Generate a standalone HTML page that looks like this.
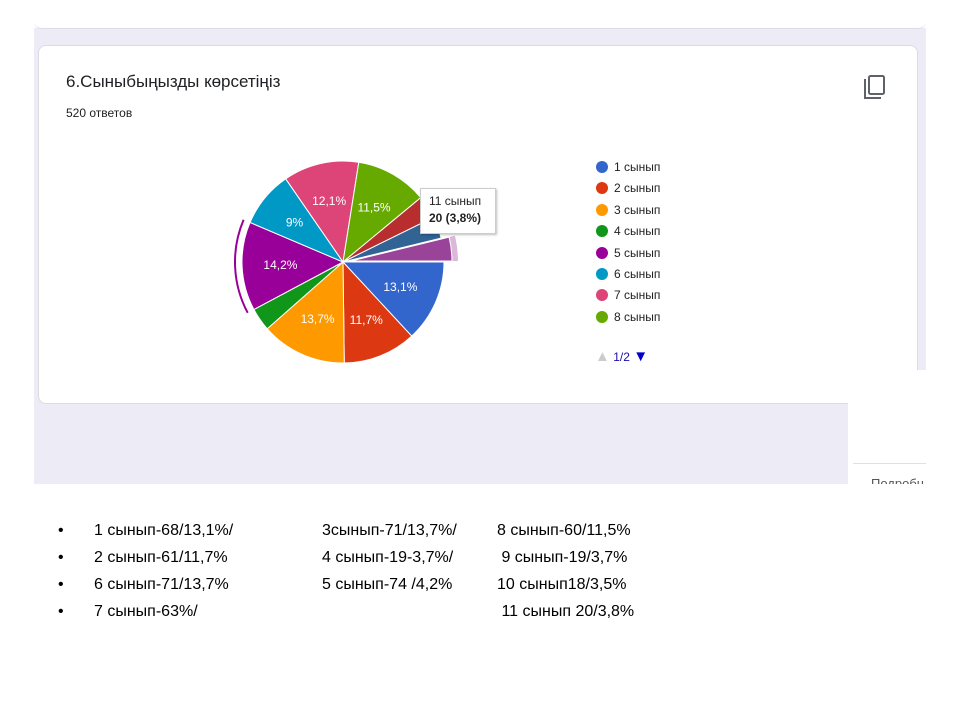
<!DOCTYPE html>
<html><head><meta charset="utf-8"><style>
body{margin:0;width:960px;height:720px;background:#fff;position:relative;overflow:hidden;font-family:"Liberation Sans",sans-serif}
.abs{position:absolute}
.bul{position:absolute;font-size:16px;color:#000;white-space:pre}
</style></head><body>
<div class="abs" style="left:34px;top:28px;width:892px;height:456px;background:#ecebf6"></div>
<div class="abs" style="left:34px;top:0;width:892px;height:28px;background:#fff;border-bottom:1px solid #dcdbe6;border-radius:0 0 8px 8px"></div>
<div class="abs" style="left:38px;top:45px;width:878px;height:357px;background:#fff;border:1px solid #dadce0;border-radius:8px"></div>
<div class="abs" style="left:66px;top:72px;font-size:17px;color:#202124">6.Сыныбыңызды көрсетіңіз</div>
<div class="abs" style="left:66px;top:106px;font-size:12px;color:#202124">520 ответов</div>
<svg class="abs" style="left:862px;top:74px" width="26" height="26" viewBox="0 0 26 26"><path d="M3 5v19h16" fill="none" stroke="#5f6368" stroke-width="2"/><rect x="7" y="2" width="15" height="18" rx="1.5" fill="none" stroke="#5f6368" stroke-width="2"/></svg>
<svg class="abs" id="pie" style="left:0;top:0" width="960" height="720"></svg>
<div class="abs" style="left:420px;top:188px;width:76px;height:46px;background:#fff;border:1px solid #ccc;box-shadow:1px 1px 2px rgba(0,0,0,.25);font-size:12px;color:#222;line-height:17px;padding:4px 0 0 8px;box-sizing:border-box">11 сынып<br><b>20 (3,8%)</b></div>
<div id="legend"></div>
<div class="abs" style="left:595px;top:348px;font-size:12px;color:#1a0dab"><span style="color:#ccc;font-size:15px">▲</span> 1/2 <span style="color:#0000cc;font-size:15px">▼</span></div>
<div class="abs" style="left:848px;top:370px;width:78px;height:114px;background:#fff"></div>
<div class="abs" style="left:853px;top:463px;width:73px;height:1px;background:#e0e0e0"></div>
<div class="abs" style="left:871px;top:476px;height:8px;overflow:hidden;font-size:13px;color:#555">Подробн</div>
<div class="bul" style="left:58px;top:517px;line-height:27px">•
•
•
•</div>
<div class="bul" style="left:94px;top:517px;line-height:27px">1 сынып-68/13,1%/
2 сынып-61/11,7%
6 сынып-71/13,7%
7 сынып-63%/</div>
<div class="bul" style="left:322px;top:517px;line-height:27px">3сынып-71/13,7%/
4 сынып-19-3,7%/
5 сынып-74 /4,2%</div>
<div class="bul" style="left:497px;top:517px;line-height:27px">8 сынып-60/11,5%
 9 сынып-19/3,7%
10 сынып18/3,5%
 11 сынып 20/3,8%</div>
<script>
const categories=["1 сынып","2 сынып","3 сынып","4 сынып","5 сынып","6 сынып","7 сынып","8 сынып","9 сынып","10 сынып","11 сынып"];
const values=[13.1,11.7,13.7,3.7,14.2,9,12.1,11.5,3.7,3.5,3.8];
const labels=["13,1%","11,7%","13,7%","","14,2%","9%","12,1%","11,5%","","",""];
const colors=["#3366cc","#dc3912","#ff9900","#109618","#990099","#0099c6","#dd4477","#66aa00","#b82e2e","#316395","#994499"];
const svg=document.getElementById('pie');const NS="http://www.w3.org/2000/svg";
const cx=343,cy=262,r=101,total=values.reduce((a,b)=>a+b,0);
function pt(a,rr,ox,oy){return [cx+ox+rr*Math.sin(a),cy+oy-rr*Math.cos(a)];}
let a=Math.PI/2;
values.forEach((v,i)=>{
 const s=a,e=a+v/total*2*Math.PI;a=e;
 const mid=(s+e)/2;let ox=0,oy=0;
 if(i===values.length-1){ox=8*Math.sin(mid);oy=-8*Math.cos(mid);
  const [hx1,hy1]=pt(s,r+6,ox,oy),[hx2,hy2]=pt(e,r+6,ox,oy);
  const h=document.createElementNS(NS,'path');
  h.setAttribute('d',`M${cx+ox},${cy+oy}L${hx1},${hy1}A${r+6},${r+6} 0 0 1 ${hx2},${hy2}Z`);
  h.setAttribute('fill','#d9b8d9');
  
  
  svg.appendChild(h);}
 const [x1,y1]=pt(s,r,ox,oy),[x2,y2]=pt(e,r,ox,oy);
 const p=document.createElementNS(NS,'path');
 p.setAttribute('d',`M${cx+ox},${cy+oy}L${x1},${y1}A${r},${r} 0 ${e-s>Math.PI?1:0} 1 ${x2},${y2}Z`);
 p.setAttribute('fill',colors[i]);p.setAttribute('stroke','#fff');p.setAttribute('stroke-width','1');
 
 
 svg.appendChild(p);
 if(i===4){const [ax1,ay1]=pt(s,r+7,0,0),[ax2,ay2]=pt(e,r+7,0,0);
  const ar=document.createElementNS(NS,'path');
  ar.setAttribute('d',`M${ax1},${ay1}A${r+7},${r+7} 0 0 1 ${ax2},${ay2}`);
  ar.setAttribute('fill','none');ar.setAttribute('stroke','#990099');ar.setAttribute('stroke-width','2');
  
  
  svg.appendChild(ar);}
 if(labels[i]){const [tx,ty]=pt(mid,r*0.62,0,0);
  const t=document.createElementNS(NS,'text');
  t.setAttribute('x',tx);t.setAttribute('y',ty+4);t.setAttribute('text-anchor','middle');
  t.setAttribute('font-size','12');t.setAttribute('fill','#fff');t.setAttribute('font-family','Liberation Sans, sans-serif');
  t.textContent=labels[i];
  
  
  svg.appendChild(t);}
});
const lg=document.getElementById('legend');
for(let i=0;i<8;i++){
 const d=document.createElement('div');
 d.className='abs';d.style.cssText=`left:596px;top:${160+i*21.4}px;font-size:12px;color:#222;line-height:14px`;
 d.innerHTML=`<span style="display:inline-block;width:12px;height:12px;border-radius:50%;background:${colors[i]};vertical-align:-2px;margin-right:6px"></span>${categories[i]}`;
 
 
 lg.appendChild(d);
}
</script>
</body></html>
